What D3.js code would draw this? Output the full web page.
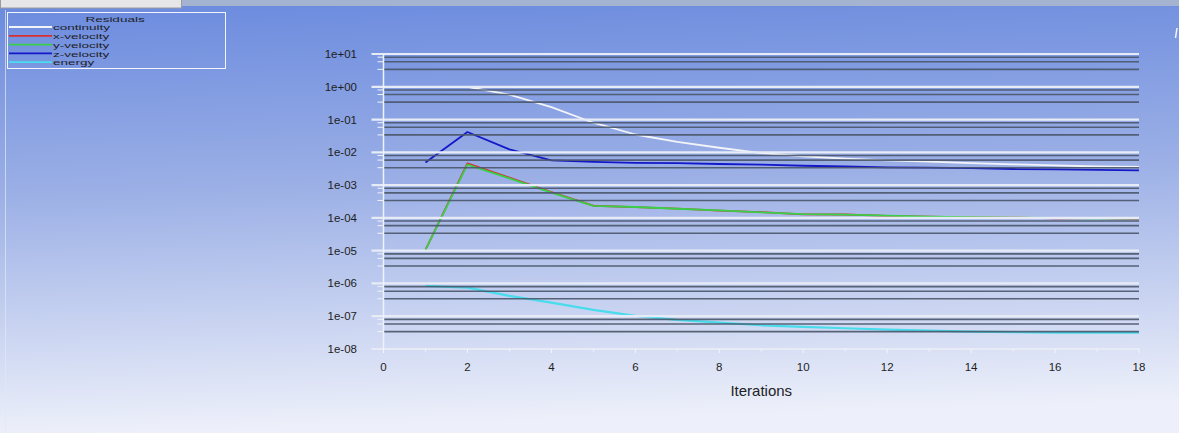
<!DOCTYPE html>
<html>
<head>
<meta charset="utf-8">
<script src="https://cdn.jsdelivr.net/npm/d3@7"></script>
<style>
  html, body { margin: 0; padding: 0; overflow: hidden; background: #fff; }
  svg { display: block; }
  text { font-family: "Liberation Sans", Arial, sans-serif; }
</style>
</head>
<body>
<svg id="chart" width="1179" height="433"></svg>
<script>
// Residual history, one value per iteration
const iterations = [1, 2, 3, 4, 5, 6, 7, 8, 9, 10, 11, 12, 13, 14, 15, 16, 17, 18];
const continuity = [null, 1.0, 0.58, 0.24, 0.08, 0.035, 0.021, 0.0138, 0.0095,
  0.0076, 0.0064, 0.0057, 0.0052, 0.0047, 0.0043, 0.0040, 0.0037, 0.0036];
const xVelocity = [1.05e-5, 4.6e-3, 1.68e-3, 6.1e-4, 2.35e-4, 2.12e-4, 1.93e-4, 1.66e-4, 1.50e-4,
  1.28e-4, 1.27e-4, 1.15e-4, 1.10e-4, 1.04e-4, 1.02e-4, 9.75e-5, 9.8e-5, 9.55e-5];
const yVelocity = [1.05e-5, 4.2e-3, 1.60e-3, 5.9e-4, 2.31e-4, 2.15e-4, 1.90e-4, 1.70e-4, 1.48e-4,
  1.31e-4, 1.25e-4, 1.17e-4, 1.09e-4, 1.06e-4, 1.01e-4, 9.93e-5, 9.72e-5, 9.72e-5];
const zVelocity = [0.0049, 0.0416, 0.0123, 0.0057, 0.0051, 0.0048, 0.0047, 0.0044, 0.0042,
  0.0039, 0.0037, 0.0035, 0.0034, 0.0033, 0.0031, 0.0030, 0.0029, 0.0028];
const energy = [8.4e-7, 7.45e-7, 4.16e-7, 2.6e-7, 1.56e-7, 1.02e-7, 7.7e-8, 6.4e-8, 5.3e-8,
  4.72e-8, 4.3e-8, 3.9e-8, 3.64e-8, 3.39e-8, 3.25e-8, 3.16e-8, 3.16e-8, 3.16e-8];

const seriesNames = ["continuity", "x-velocity", "y-velocity", "z-velocity", "energy"];
const seriesColors = ["#f2f4f8", "#d83030", "#38d048", "#1418c8", "#48dcec"];

// Axis ticks
const xTicks = [0, 2, 4, 6, 8, 10, 12, 14, 16, 18];
const xMinorTicks = [1, 3, 5, 7, 9, 11, 13, 15, 17];
const yTicks = [1e1, 1e0, 1e-1, 1e-2, 1e-3, 1e-4, 1e-5, 1e-6, 1e-7, 1e-8];
const yTickLabels = ["1e+01", "1e+00", "1e-01", "1e-02", "1e-03", "1e-04", "1e-05", "1e-06", "1e-07", "1e-08"];
const yMinorFactors = [0.8, 0.58, 0.34];

const svg = d3.select("#chart");
const W = 1179, H = 433;

// Window background
const defs = svg.append("defs");
const bg = defs.append("linearGradient").attr("id", "bg")
  .attr("x1", 0).attr("y1", 0).attr("x2", 0.08).attr("y2", 1);
bg.append("stop").attr("offset", "0").attr("stop-color", "#6a8ade");
bg.append("stop").attr("offset", "0.45").attr("stop-color", "#9cb0e6");
bg.append("stop").attr("offset", "1").attr("stop-color", "#edf0fa");
svg.append("rect").attr("width", W).attr("height", H).attr("fill", "url(#bg)");

// Top strip and tab
svg.append("rect").attr("x", 0).attr("y", 0).attr("width", W).attr("height", 6).attr("fill", "#a3b3d0");
svg.append("rect").attr("x", 0.5).attr("y", -1).attr("width", 181).attr("height", 9)
  .attr("fill", "#e6e6e8").attr("stroke", "#9a9aa0");
svg.append("line").attr("x1", 5.5).attr("x2", 5.5).attr("y1", 10).attr("y2", H)
  .attr("stroke", "#e4e8f2").attr("stroke-width", 1).attr("opacity", 0.7);
svg.append("line").attr("x1", 1177).attr("x2", 1175.5).attr("y1", 28).attr("y2", 38)
  .attr("stroke", "#f4f6fb").attr("stroke-width", 1.5);

// Scales
const x = d3.scaleLinear().domain([0, 18]).range([383.5, 1139]);
const y = d3.scaleLog().domain([1e-8, 1e1]).range([349, 54]);

// Residual curves
const seriesData = [continuity, xVelocity, yVelocity, zVelocity, energy];
const line = d3.line()
  .defined(d => d.v != null)
  .x(d => x(d.i))
  .y(d => y(d.v));
const plot = svg.append("g");
seriesData.forEach((vals, k) => {
  const pts = iterations.map((it, j) => ({ i: it, v: vals[j] }));
  plot.append("path")
    .attr("d", line(pts))
    .attr("fill", "none")
    .attr("stroke", seriesColors[k])
    .attr("stroke-width", k === 4 ? 2.2 : 1.8)
    .attr("stroke-linejoin", "round");
});

// Grid: minor dark lines and major light lines
const grid = svg.append("g");
const minorVals = [];
yTicks.slice(0, -1).forEach(t => yMinorFactors.forEach(f => minorVals.push(t * f)));
grid.selectAll("line.minor").data(minorVals).join("line")
  .attr("class", "minor")
  .attr("x1", x(0)).attr("x2", x(18))
  .attr("y1", d => y(d)).attr("y2", d => y(d))
  .attr("stroke", "#4a566a").attr("stroke-width", 1.6).attr("opacity", 0.9);
grid.selectAll("line.minorTick").data(minorVals).join("line")
  .attr("class", "minorTick")
  .attr("x1", x(0) - 6).attr("x2", x(0))
  .attr("y1", d => y(d)).attr("y2", d => y(d))
  .attr("stroke", "#eef2fa").attr("stroke-width", 1);
grid.selectAll("line.major").data(yTicks).join("line")
  .attr("class", "major")
  .attr("x1", x(0) - 12).attr("x2", x(18))
  .attr("y1", d => y(d)).attr("y2", d => y(d))
  .attr("stroke", "#e6ebf6").attr("stroke-width", 2.2);

// Y axis
svg.append("line").attr("x1", x(0)).attr("x2", x(0)).attr("y1", y(1e1)).attr("y2", y(1e-8))
  .attr("stroke", "#eef2fa").attr("stroke-width", 1.5);
svg.append("g").selectAll("text").data(yTicks).join("text")
  .attr("x", 357).attr("y", d => y(d))
  .attr("dy", "0.35em")
  .attr("text-anchor", "end")
  .attr("font-size", 11.5)
  .attr("fill", "#1e1e22")
  .text((d, i) => yTickLabels[i]);

// X axis
const xAxis = svg.append("g");
xAxis.selectAll("line.tick").data(xTicks).join("line")
  .attr("x1", d => x(d)).attr("x2", d => x(d))
  .attr("y1", y(1e-8)).attr("y2", y(1e-8) + 4)
  .attr("stroke", "#f4f6fb").attr("stroke-width", 1);
xAxis.selectAll("line.mtick").data(xMinorTicks).join("line")
  .attr("x1", d => x(d)).attr("x2", d => x(d))
  .attr("y1", y(1e-8)).attr("y2", y(1e-8) + 2.5)
  .attr("stroke", "#f4f6fb").attr("stroke-width", 1);
xAxis.selectAll("text").data(xTicks).join("text")
  .attr("x", d => x(d)).attr("y", 367)
  .attr("dy", "0.35em")
  .attr("text-anchor", "middle")
  .attr("font-size", 11.5)
  .attr("fill", "#1e1e22")
  .text(d => d);
svg.append("text")
  .attr("x", (x(0) + x(18)) / 2).attr("y", 391)
  .attr("dy", "0.35em")
  .attr("text-anchor", "middle")
  .attr("font-size", 15)
  .attr("fill", "#222226")
  .text("Iterations");

// Legend: compact stacked entries
const legend = svg.append("g");
legend.append("rect").attr("x", 7.5).attr("y", 12.5).attr("width", 218).attr("height", 56)
  .attr("fill", "none").attr("stroke", "#f2f5fb").attr("stroke-width", 1);
legend.append("text")
  .attr("transform", "translate(115,21.5) scale(1,0.6)")
  .attr("text-anchor", "middle")
  .attr("font-size", 13.5)
  .attr("fill", "#1e1e28")
  .text("Residuals");
const legendY = [27, 35.8, 44.6, 53.4, 62.2];
seriesNames.forEach((name, k) => {
  legend.append("line")
    .attr("x1", 9).attr("x2", 52)
    .attr("y1", legendY[k]).attr("y2", legendY[k])
    .attr("stroke", seriesColors[k]).attr("stroke-width", 1.8);
  legend.append("text")
    .attr("transform", `translate(53,${legendY[k] + 3.2}) scale(1,0.56)`)
    .attr("font-size", 13.5)
    .attr("fill", "#1e1e28")
    .text(name);
});
</script>
</body>
</html>
